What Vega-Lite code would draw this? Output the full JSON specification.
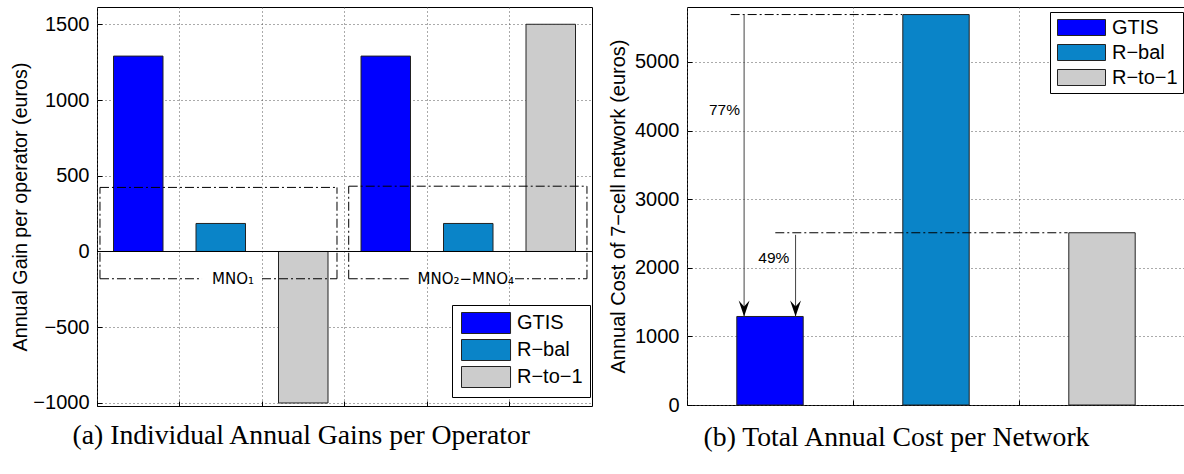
{
  "$schema": "https://vega.github.io/schema/vega-lite/v6.json",
  "padding": {"left": 9, "top": 6, "right": 0, "bottom": 0},
  "background": "white",
  "spacing": 14,
  "config": {
    "view": {"stroke": "black", "strokeWidth": 1},
    "font": "Liberation Sans",
    "axis": {
      "labelFont": "Liberation Sans",
      "titleFont": "Liberation Sans",
      "labelColor": "black",
      "titleColor": "black",
      "titleFontWeight": "normal",
      "domain": false,
      "gridColor": "#555555",
      "gridDash": [1, 3],
      "gridWidth": 1,
      "gridOpacity": 1,
      "tickColor": "black"
    },
    "title": {
      "font": "Liberation Serif",
      "fontSize": 27.7,
      "fontWeight": "normal",
      "color": "black",
      "orient": "bottom",
      "anchor": "middle",
      "frame": "bounds",
      "offset": 9
    }
  },
  "datasets": {
    "left": [
      {"bar": "MNO1 GTIS", "method": "GTIS", "value": 1290},
      {"bar": "MNO1 R−bal", "method": "R−bal", "value": 185},
      {"bar": "MNO1 R−to−1", "method": "R−to−1", "value": -1000},
      {"bar": "MNO2–MNO4 GTIS", "method": "GTIS", "value": 1290},
      {"bar": "MNO2–MNO4 R−bal", "method": "R−bal", "value": 185},
      {"bar": "MNO2–MNO4 R−to−1", "method": "R−to−1", "value": 1500}
    ],
    "leftBoxes": [
      {"x": 0.036, "x2": 2.909, "y": 423, "y2": 423},
      {"x": 0.036, "x2": 0.036, "y": -180, "y2": 423},
      {"x": 2.909, "x2": 2.909, "y": -180, "y2": 423},
      {"x": 0.036, "x2": 1.273, "y": -180, "y2": -180},
      {"x": 2.0, "x2": 2.909, "y": -180, "y2": -180},
      {"x": 3.051, "x2": 5.939, "y": 431, "y2": 431},
      {"x": 3.051, "x2": 3.051, "y": -180, "y2": 431},
      {"x": 5.939, "x2": 5.939, "y": -180, "y2": 431},
      {"x": 3.051, "x2": 3.794, "y": -180, "y2": -180},
      {"x": 5.067, "x2": 5.939, "y": -180, "y2": -180}
    ],
    "leftLabels": [
      {"x": 1.648, "y": -180, "text": "MNO₁"},
      {"x": 4.47, "y": -180, "text": "MNO₂−MNO₄"}
    ],
    "right": [
      {"method": "GTIS", "value": 1290},
      {"method": "R−bal", "value": 5690},
      {"method": "R−to−1", "value": 2510}
    ],
    "rightLines": [
      {"x": 0.263, "x2": 1.296, "y": 5690},
      {"x": 0.532, "x2": 2.293, "y": 2510}
    ],
    "rightArrows": [
      {"x": 0.344, "y": 5690, "y2": 1290},
      {"x": 0.654, "y": 2480, "y2": 1290}
    ],
    "rightLabels": [
      {"x": 0.226, "y": 4300, "text": "77%"},
      {"x": 0.523, "y": 2140, "text": "49%"}
    ]
  },
  "hconcat": [
    {
      "width": 495,
      "height": 399,
      "title": {"text": "(a) Individual Annual Gains per Operator"},
      "layer": [
        {
          "data": {"name": "left"},
          "mark": {"type": "bar", "width": {"band": 0.6}, "stroke": "#222222", "strokeWidth": 1},
          "encoding": {
            "x": {
              "field": "bar", "type": "nominal", "sort": null,
              "scale": {"paddingInner": 0, "paddingOuter": 0},
              "axis": {"bandPosition": 0, "grid": true, "labels": false, "ticks": true, "tickSize": -5, "domain": false, "title": null}
            },
            "y": {
              "field": "value", "type": "quantitative", "stack": null,
              "scale": {"domain": [-1020, 1614], "nice": false, "zero": false},
              "axis": {
                "title": "Annual Gain per operator (euros)",
                "values": [-1000, -500, 0, 500, 1000, 1500],
                "format": "d",
                "labelFontSize": 20,
                "titleFontSize": 19.7,
                "ticks": true,
                "tickSize": -5,
                "labelPadding": 13,
                "grid": true,
                "minExtent": 64,
                "maxExtent": 64,
                "titlePadding": 3
              }
            },
            "color": {
              "field": "method", "type": "nominal",
              "scale": {"domain": ["GTIS", "R−bal", "R−to−1"], "range": ["#0000FF", "#0A84C8", "#CCCCCC"]},
              "legend": {
                "orient": "none", "legendX": 355, "legendY": 298,
                "title": null,
                "symbolType": "M-1,-1H3.67V1H-1Z",
                "symbolSize": 441,
                "symbolStrokeColor": "#222222",
                "symbolStrokeWidth": 1,
                "symbolOpacity": 1,
                "symbolOffset": 2,
                "labelOffset": 34,
                "labelFont": "Liberation Sans",
                "labelFontSize": 20,
                "labelColor": "black",
                "rowPadding": 1,
                "padding": 7,
                "strokeColor": "black",
                "fillColor": "white"
              }
            }
          }
        },
        {
          "data": {"values": [{}]},
          "mark": {"type": "rule", "color": "black", "strokeWidth": 1},
          "encoding": {
            "y": {"datum": 0, "type": "quantitative", "scale": {"domain": [-1020, 1614], "nice": false, "zero": false}}
          }
        },
        {
          "data": {"name": "leftBoxes"},
          "mark": {"type": "rule", "color": "black", "strokeWidth": 1, "strokeDash": [9, 3, 2, 3]},
          "encoding": {
            "x": {"field": "x", "type": "quantitative", "scale": {"domain": [0, 6], "nice": false, "zero": false}, "axis": null},
            "x2": {"field": "x2"},
            "y": {"field": "y", "type": "quantitative", "scale": {"domain": [-1020, 1614], "nice": false, "zero": false}},
            "y2": {"field": "y2"}
          }
        },
        {
          "data": {"name": "leftLabels"},
          "mark": {"type": "text", "font": "DejaVu Sans", "fontSize": 15, "color": "black", "align": "center", "baseline": "middle"},
          "encoding": {
            "x": {"field": "x", "type": "quantitative", "scale": {"domain": [0, 6], "nice": false, "zero": false}, "axis": null},
            "y": {"field": "y", "type": "quantitative", "scale": {"domain": [-1020, 1614], "nice": false, "zero": false}},
            "text": {"field": "text"}
          }
        }
      ],
      "resolve": {"scale": {"x": "independent"}}
    },
    {
      "width": 498,
      "height": 398,
      "title": {"text": "(b) Total Annual Cost per Network"},
      "layer": [
        {
          "data": {"name": "right"},
          "mark": {"type": "bar", "width": {"band": 0.4}, "stroke": "#222222", "strokeWidth": 1},
          "encoding": {
            "x": {
              "field": "method", "type": "nominal", "sort": null,
              "scale": {"paddingInner": 0, "paddingOuter": 0},
              "axis": {"bandPosition": 0, "grid": true, "labels": false, "ticks": true, "tickSize": -5, "domain": false, "title": null}
            },
            "y": {
              "field": "value", "type": "quantitative", "stack": null,
              "scale": {"domain": [0, 5800], "nice": false, "zero": false},
              "axis": {
                "title": "Annual Cost of 7−cell network (euros)",
                "values": [0, 1000, 2000, 3000, 4000, 5000],
                "format": "d",
                "labelFontSize": 20,
                "titleFontSize": 20,
                "ticks": true,
                "tickSize": -5,
                "labelPadding": 13,
                "grid": true,
                "minExtent": 52,
                "maxExtent": 52,
                "titlePadding": 7
              }
            },
            "color": {
              "field": "method", "type": "nominal",
              "scale": {"domain": ["GTIS", "R−bal", "R−to−1"], "range": ["#0000FF", "#0A84C8", "#CCCCCC"]},
              "legend": {
                "orient": "none", "legendX": 363, "legendY": 5,
                "title": null,
                "symbolType": "M-1,-0.8H3.8V0.8H-1Z",
                "symbolSize": 400,
                "symbolStrokeColor": "#222222",
                "symbolStrokeWidth": 1,
                "symbolOpacity": 1,
                "symbolOffset": 2,
                "labelOffset": 34,
                "labelFont": "Liberation Sans",
                "labelFontSize": 20,
                "labelColor": "black",
                "rowPadding": 4,
                "padding": 5,
                "strokeColor": "black",
                "fillColor": "white"
              }
            }
          }
        },
        {
          "data": {"name": "rightLines"},
          "mark": {"type": "rule", "color": "black", "strokeWidth": 1, "strokeDash": [9, 3, 2, 3]},
          "encoding": {
            "x": {"field": "x", "type": "quantitative", "scale": {"domain": [0, 3], "nice": false, "zero": false}, "axis": null},
            "x2": {"field": "x2"},
            "y": {"field": "y", "type": "quantitative", "scale": {"domain": [0, 5800], "nice": false, "zero": false}}
          }
        },
        {
          "data": {"name": "rightArrows"},
          "mark": {"type": "rule", "color": "#444444", "strokeWidth": 1},
          "encoding": {
            "x": {"field": "x", "type": "quantitative", "scale": {"domain": [0, 3], "nice": false, "zero": false}, "axis": null},
            "y": {"field": "y", "type": "quantitative", "scale": {"domain": [0, 5800], "nice": false, "zero": false}},
            "y2": {"field": "y2"}
          }
        },
        {
          "data": {"name": "rightArrows"},
          "mark": {"type": "point", "shape": "M0,0L-0.34,-1L0,-0.62L0.34,-1Z", "size": 1024, "filled": true, "color": "black", "opacity": 1, "strokeWidth": 0},
          "encoding": {
            "x": {"field": "x", "type": "quantitative", "scale": {"domain": [0, 3], "nice": false, "zero": false}, "axis": null},
            "y": {"field": "y2", "type": "quantitative", "scale": {"domain": [0, 5800], "nice": false, "zero": false}}
          }
        },
        {
          "data": {"name": "rightLabels"},
          "mark": {"type": "text", "font": "Liberation Sans", "fontSize": 15.5, "color": "black", "align": "center", "baseline": "middle"},
          "encoding": {
            "x": {"field": "x", "type": "quantitative", "scale": {"domain": [0, 3], "nice": false, "zero": false}, "axis": null},
            "y": {"field": "y", "type": "quantitative", "scale": {"domain": [0, 5800], "nice": false, "zero": false}},
            "text": {"field": "text"}
          }
        }
      ],
      "resolve": {"scale": {"x": "independent"}}
    }
  ],
  "resolve": {"scale": {"color": "independent"}, "legend": {"color": "independent"}}
}
